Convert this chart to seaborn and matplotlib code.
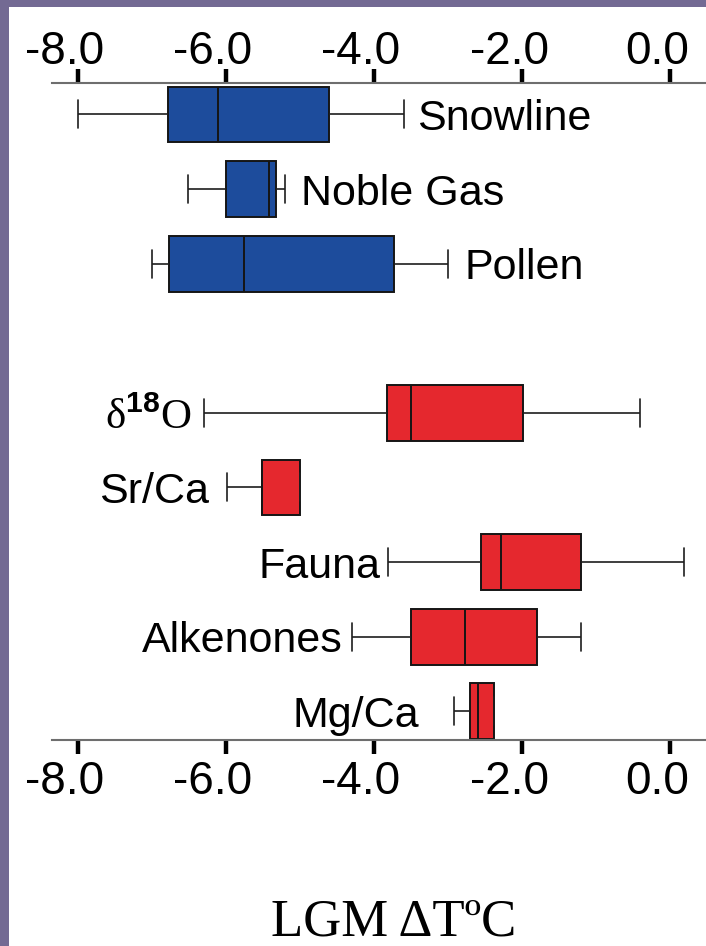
import numpy as np
import pandas as pd
import matplotlib
matplotlib.use("Agg")
import matplotlib.pyplot as plt
import matplotlib.transforms as mtransforms
from matplotlib.patches import Rectangle
import seaborn as sns

# ---- data ----
proxies = ["Snowline", "Noble Gas", "Pollen", "d18O", "Sr/Ca", "Fauna", "Alkenones", "Mg/Ca"]
display = ["Snowline", "Noble Gas", "Pollen", r"$\mathrm{δ}^{\mathbf{18}}\mathrm{O}$",
           "Sr/Ca", "Fauna", "Alkenones", "Mg/Ca"]
groups = ["land", "land", "land", "ocean", "ocean", "ocean", "ocean", "ocean"]
w_min = [-8.00, -6.52, -7.00, -6.30, -5.99, -3.81, -4.30, -2.92]
q1 = [-6.79, -6.00, -6.77, -3.82, -5.51, -2.55, -3.50, -2.70]
med = [-6.11, -5.42, -5.75, -3.50, -5.51, -2.28, -2.77, -2.60]
q3 = [-4.61, -5.32, -3.73, -1.99, -5.00, -1.20, -1.80, -2.38]
w_max = [-3.59, -5.20, -3.00, -0.40, -5.00, 0.19, -1.20, -2.38]
x_ticks = [-8.0, -6.0, -4.0, -2.0, 0.0]
x_tick_labels = ["-8.0", "-6.0", "-4.0", "-2.0", "0.0"]
x_label = "LGM ΔTºC"

# ---- style ----
sns.set_theme(style="white")
plt.rcParams["font.family"] = ["Liberation Sans", "DejaVu Sans"]
plt.rcParams["mathtext.fontset"] = "custom"
plt.rcParams["mathtext.rm"] = "Liberation Serif"
plt.rcParams["mathtext.bf"] = "Liberation Sans:bold"
plt.rcParams["axes.unicode_minus"] = False

palette = {"land": "#1d4c9c", "ocean": "#e5282e"}
label_offsets_px = [13, 16, 17, 12, 18, 8, 9, 35]

rows = []
for p, g, a, b, c, d, e in zip(proxies, groups, w_min, q1, med, q3, w_max):
    for v in (a, b, c, d, e):
        rows.append({"proxy": p, "group": g, "value": v})
df = pd.DataFrame(rows)
order = proxies[:3] + [" "] + proxies[3:]

fig = plt.figure(figsize=(7.06, 9.46), dpi=100)
W, H = 706, 946
ax = fig.add_axes([52 / W, 1 - 740 / H, 654 / W, 657 / H])

sns.boxplot(data=df, x="value", y="proxy", hue="group", order=order,
            palette=palette, dodge=False, width=0.75, whis=(0, 100),
            saturation=1, linewidth=1.4, linecolor="#151515",
            showfliers=False, legend=False, ax=ax,
            whiskerprops={"linewidth": 1.2, "color": "#1e1e1e"},
            capprops={"linewidth": 1.2, "color": "#1e1e1e"})

ax.set_xlim((-670 + 52) / 74, (706 - 670) / 74)
ax.set_ylim(8.385, -0.422)
ax.set_yticks([])
ax.set_ylabel("")

for s in ("left", "right"):
    ax.spines[s].set_visible(False)
for s in ("top", "bottom"):
    ax.spines[s].set_visible(True)
    ax.spines[s].set_color("#6e6e6e")
    ax.spines[s].set_linewidth(1.5)

ax.set_xticks(x_ticks)
ax.set_xticklabels(x_tick_labels)
ax.tick_params(axis="x", which="major", top=True, bottom=True, labeltop=True,
               labelbottom=True, direction="out", length=10, width=3.2,
               color="black", labelsize=33, pad=4.5, labelcolor="black")

for t in ax.xaxis.get_major_ticks():
    t.label1.set_transform(t.label1.get_transform() +
                           mtransforms.ScaledTranslation(-13 / 100, 0, fig.dpi_scale_trans))
    t.label2.set_transform(t.label2.get_transform() +
                           mtransforms.ScaledTranslation(-13 / 100, -11 / 100, fig.dpi_scale_trans))

# category labels beside the whiskers
positions = [order.index(p) for p in proxies]
for pos, lab, g, lo, hi, off in zip(positions, display, groups, w_min, w_max, label_offsets_px):
    if g == "land":
        tr = ax.transData + mtransforms.ScaledTranslation(off / 100, 0, fig.dpi_scale_trans)
        ax.text(hi, pos, lab, transform=tr, ha="left", va="center_baseline",
                fontsize=31, color="black")
    else:
        tr = ax.transData + mtransforms.ScaledTranslation(-off / 100, 0, fig.dpi_scale_trans)
        ax.text(lo, pos, lab, transform=tr, ha="right", va="center_baseline",
                fontsize=31, color="black")

ax.set_xlabel(x_label, fontsize=38, family=["Liberation Serif", "DejaVu Serif"],
              color="black")
ax.xaxis.label.set_va("center")
ax.xaxis.set_label_coords((394 - 52) / 654, (740 - 922) / 657)

# purple-grey frame on left and top
border = "#736a93"
fig.patches.append(Rectangle((0, 0), 9 / W, 1, transform=fig.transFigure,
                             facecolor=border, edgecolor="none", zorder=10))
fig.patches.append(Rectangle((0, 1 - 7 / H), 1, 7 / H, transform=fig.transFigure,
                             facecolor=border, edgecolor="none", zorder=10))

fig.savefig("out.png", dpi=100)
